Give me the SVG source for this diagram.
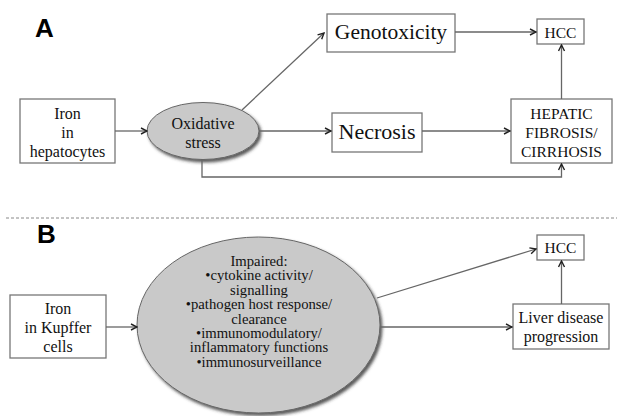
<svg xmlns="http://www.w3.org/2000/svg" width="617" height="416" viewBox="0 0 617 416">
<defs>
<marker id="arr" viewBox="0 0 8 8" refX="7" refY="4" markerWidth="8" markerHeight="8" markerUnits="userSpaceOnUse" orient="auto">
<path d="M1,1 L7,4 L1,7" fill="none" stroke="#222" stroke-width="1.4"/>
</marker>
<filter id="sh" x="-10%" y="-10%" width="125%" height="130%">
<feDropShadow dx="2" dy="2.5" stdDeviation="1.5" flood-color="#333" flood-opacity="0.8"/>
</filter>
</defs>
<style>
.box{fill:#fff;stroke:#777;stroke-width:1.3}
.ell{fill:#c9c9c9;stroke:#666;stroke-width:1}
.t{font-family:"Liberation Serif","Times New Roman",serif;fill:#111;text-anchor:middle}
.lbl{font-family:"Liberation Sans",Arial,sans-serif;font-weight:bold;font-size:26px;fill:#000}
.ln{fill:none;stroke:#666;stroke-width:1.3}
</style>
<rect width="617" height="416" fill="#fff"/>
<text class="lbl" x="35" y="37">A</text>
<text class="lbl" x="37" y="243">B</text>
<line x1="6" y1="218" x2="617" y2="218" stroke="#888" stroke-width="1" stroke-dasharray="3,2"/>

<g id="iron-hepatocytes">
<rect class="box" x="20" y="99" width="95" height="64"/>
<text class="t" font-size="16" x="67.5" y="119">Iron</text>
<text class="t" font-size="16" x="67.5" y="138">in</text>
<text class="t" font-size="16" x="67.5" y="157">hepatocytes</text>
</g>
<g id="oxidative-stress">
<ellipse class="ell" cx="203" cy="131" rx="56" ry="28.5" filter="url(#sh)"/>
<text class="t" font-size="16" x="203" y="129">Oxidative</text>
<text class="t" font-size="16" x="203" y="148">stress</text>
</g>
<g id="genotoxicity">
<rect class="box" x="327" y="14" width="128" height="38"/>
<text class="t" font-size="21.5" x="391" y="39">Genotoxicity</text>
</g>
<g id="hcc-a">
<rect class="box" x="537" y="19" width="47" height="25"/>
<text class="t" font-size="15.5" x="560.5" y="37.5">HCC</text>
</g>
<g id="necrosis">
<rect class="box" x="332" y="113" width="90" height="39"/>
<text class="t" font-size="22" x="377" y="139">Necrosis</text>
</g>
<g id="hepatic-fibrosis">
<rect class="box" x="511" y="99" width="101" height="64"/>
<text class="t" font-size="15.5" x="561.5" y="119">HEPATIC</text>
<text class="t" font-size="15.5" x="561.5" y="138">FIBROSIS/</text>
<text class="t" font-size="15.5" x="561.5" y="157">CIRRHOSIS</text>
</g>

<g id="iron-kupffer">
<rect class="box" x="10" y="295" width="96" height="63"/>
<text class="t" font-size="16" x="58" y="314">Iron</text>
<text class="t" font-size="16" x="58" y="333">in Kupffer</text>
<text class="t" font-size="16" x="58" y="352">cells</text>
</g>
<g id="impaired">
<ellipse class="ell" cx="258.5" cy="325" rx="121.5" ry="88" filter="url(#sh)"/>
<g class="t" font-size="14.7">
<text x="259" y="266">Impaired:</text>
<text x="259" y="280.4">•cytokine activity/</text>
<text x="259" y="294.8">signalling</text>
<text x="259" y="309.2">•pathogen host response/</text>
<text x="259" y="323.6">clearance</text>
<text x="259" y="338">•immunomodulatory/</text>
<text x="259" y="352.4">inflammatory functions</text>
<text x="259" y="366.8">•immunosurveillance</text>
</g>
</g>
<g id="hcc-b">
<rect class="box" x="537" y="235" width="47" height="25"/>
<text class="t" font-size="15.5" x="560.5" y="253">HCC</text>
</g>
<g id="liver-disease">
<rect class="box" x="513" y="304" width="96" height="45"/>
<text class="t" font-size="16" x="561" y="323">Liver disease</text>
<text class="t" font-size="16" x="561" y="342">progression</text>
</g>

<g id="connectors">
<line class="ln" x1="115" y1="131" x2="147" y2="131" marker-end="url(#arr)"/>
<line class="ln" x1="242" y1="110" x2="324" y2="33" marker-end="url(#arr)"/>
<line class="ln" x1="259" y1="131" x2="331" y2="131" marker-end="url(#arr)"/>
<line class="ln" x1="455" y1="32" x2="536" y2="32" marker-end="url(#arr)"/>
<line class="ln" x1="422" y1="131" x2="510" y2="131" marker-end="url(#arr)"/>
<line class="ln" x1="561.5" y1="99" x2="561.5" y2="45" marker-end="url(#arr)"/>
<polyline class="ln" points="202,159 202,177 561.5,177 561.5,164" marker-end="url(#arr)"/>
<line class="ln" x1="106" y1="327" x2="137" y2="327" marker-end="url(#arr)"/>
<line class="ln" x1="377" y1="298" x2="536" y2="249" marker-end="url(#arr)"/>
<line class="ln" x1="380" y1="327" x2="512" y2="327" marker-end="url(#arr)"/>
<line class="ln" x1="561.5" y1="304" x2="561.5" y2="261" marker-end="url(#arr)"/>
</g>
</svg>
